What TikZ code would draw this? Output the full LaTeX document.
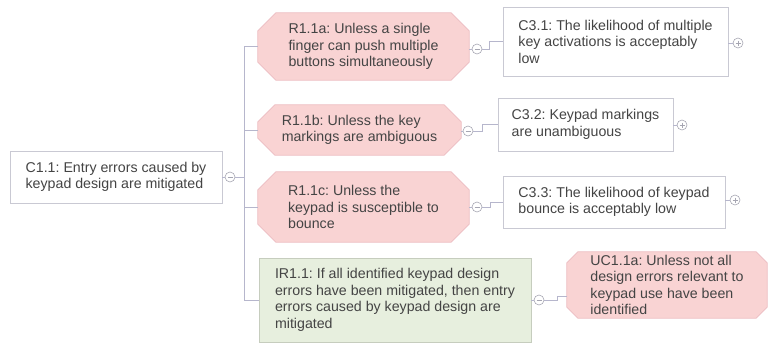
\documentclass[tikz,border=0pt]{standalone}
\usepackage{fontspec}
\setmainfont{Liberation Sans}
\usetikzlibrary{calc,backgrounds}
\frenchspacing

\definecolor{txtgray}{HTML}{444444}
\definecolor{boxline}{HTML}{C9C9D3}
\definecolor{pinkfill}{HTML}{F9D3D3}
\definecolor{pinkline}{HTML}{EDBDC2}
\definecolor{greenfill}{HTML}{E7EFDE}
\definecolor{greenline}{HTML}{C6CDBE}
\definecolor{linkcol}{HTML}{B6B6CC}
\definecolor{knobcol}{HTML}{A6A6B2}

% chamfered (octagonal) outline behind a node: #1 node name, #2 chamfer size
\newcommand\chamferbox[2]{%
  \path[draw=pinkline, fill=pinkfill, line width=0.8pt]
    ($(#1.north west)+(#2,0)$) -- ($(#1.north east)+(-#2,0)$)
    -- ($(#1.north east)+(0,#2)$) -- ($(#1.south east)+(0,-#2)$)
    -- ($(#1.south east)+(-#2,0)$) -- ($(#1.south west)+(#2,0)$)
    -- ($(#1.south west)+(0,-#2)$) -- ($(#1.north west)+(0,#2)$) -- cycle;}

\begin{document}
\begin{tikzpicture}[x=1pt, y=-1pt,
  every node/.style={font=\fontsize{14.2}{16.5}\selectfont, text=txtgray},
  claim/.style={rectangle, inner sep=0pt, align=left, draw=boxline, fill=white, line width=0.8pt},
  rebut/.style={rectangle, inner sep=0pt, align=left},
  infer/.style={rectangle, inner sep=0pt, align=left, draw=greenline, fill=greenfill, line width=0.8pt},
  link/.style={draw=linkcol, line width=0.8pt},
  knob/.style={circle, draw=knobcol, fill=white, line width=0.6pt, minimum size=10pt, inner sep=0pt},
  minusknob/.style={knob, path picture={\draw[knobcol, line width=0.6pt]
      ($(path picture bounding box.west)+(2.5,0)$) -- ($(path picture bounding box.east)+(-2.5,0)$);}},
  plusknob/.style={knob, path picture={\draw[knobcol, line width=0.6pt]
      ($(path picture bounding box.west)+(2.5,0)$) -- ($(path picture bounding box.east)+(-2.5,0)$)
      ($(path picture bounding box.north)+(0,2.5)$) -- ($(path picture bounding box.south)+(0,-2.5)$);}},
]
\useasboundingbox (0,0) rectangle (770,343);

% root claim
\node[claim, minimum width=212pt, minimum height=52pt] (c11) at (116,177)
  {C1.1: Entry errors caused by\\keypad design are mitigated};

% rebutting defeaters and inference rule
\node[rebut, minimum width=211pt, minimum height=67pt] (r1a) at (363.5,46.5)
  {R1.1a: Unless a single\\finger can push multiple\\buttons simultaneously};
\node[rebut, minimum width=203pt, minimum height=50pt] (r1b) at (359.5,130)
  {R1.1b: Unless the key\\markings are ambiguous};
\node[rebut, minimum width=211pt, minimum height=70pt] (r1c) at (363.5,207)
  {R1.1c: Unless the\\keypad is susceptible to\\bounce};
\node[infer, minimum width=272pt, minimum height=84pt] (ir1) at (395,300)
  {IR1.1: If all identified keypad design\\errors have been mitigated, then entry\\errors caused by keypad design are\\mitigated};

% sub-claims
\node[claim, minimum width=225pt, minimum height=69pt] (c31) at (615.5,41.5)
  {C3.1: The likelihood of multiple\\key activations is acceptably\\low};
\node[claim, minimum width=175pt, minimum height=53pt] (c32) at (585.5,124.5)
  {C3.2: Keypad markings\\are unambiguous};
\node[claim, minimum width=222pt, minimum height=52pt] (c33) at (614,202)
  {C3.3: The likelihood of keypad\\bounce is acceptably low};
\node[rebut, minimum width=200pt, minimum height=66pt] (uc1) at (667,285)
  {UC1.1a: Unless not all\\design errors relevant to\\keypad use have been\\identified};

% octagonal outlines of the defeaters
\begin{scope}[on background layer]
  \chamferbox{r1a}{18}
  \chamferbox{r1b}{17}
  \chamferbox{r1c}{18}
  \chamferbox{uc1}{11}
\end{scope}

% collapse / expand knobs
\node[minusknob] (k0) at (230,177) {};
\node[minusknob] (k1) at (477,49) {};
\node[minusknob] (k2) at (468,131) {};
\node[minusknob] (k3) at (477,207) {};
\node[minusknob] (k4) at (539,300) {};
\node[plusknob] (p1) at (738,43) {};
\node[plusknob] (p2) at (682,125) {};
\node[plusknob] (p3) at (735,200) {};

% tree connectors
\coordinate (trunk) at (244,177);
\coordinate (j1) at (489,0);
\coordinate (j2) at (482,0);
\coordinate (j3) at (490,0);
\coordinate (j4) at (557,0);

\draw[link] (c11.east) -- (k0.west);
\draw[link] (k0.east) -- (trunk);
\draw[link] (r1a.west) -| (trunk);
\draw[link] (r1b.west) -| (trunk);
\draw[link] (r1c.west) -| (trunk);
\draw[link] (ir1.west) -| (trunk);

\draw[link] (k1.west -| r1a.east) -- (k1.west);
\draw[link] (k2.west -| r1b.east) -- (k2.west);
\draw[link] (k3.west -| r1c.east) -- (k3.west);
\draw[link] (k4.west -| ir1.east) -- (k4.west);

\draw[link] (k1.east) -- (k1.east -| j1) -- (j1 |- c31.west) -- (c31.west);
\draw[link] (k2.east) -- (k2.east -| j2) -- (j2 |- c32.west) -- (c32.west);
\draw[link] (k3.east) -- (k3.east -| j3) -- (j3 |- c33.west) -- (c33.west);
\draw[link] (k4.east) -- (k4.east -| j4) -- ($(j4 |- uc1.west)+(0,11)$) -- ($(uc1.west)+(0,11)$);

\draw[link] (p1.west -| c31.east) -- (p1.west);
\draw[link] (p2.west -| c32.east) -- (p2.west);
\draw[link] (p3.west -| c33.east) -- (p3.west);
\end{tikzpicture}
\end{document}
